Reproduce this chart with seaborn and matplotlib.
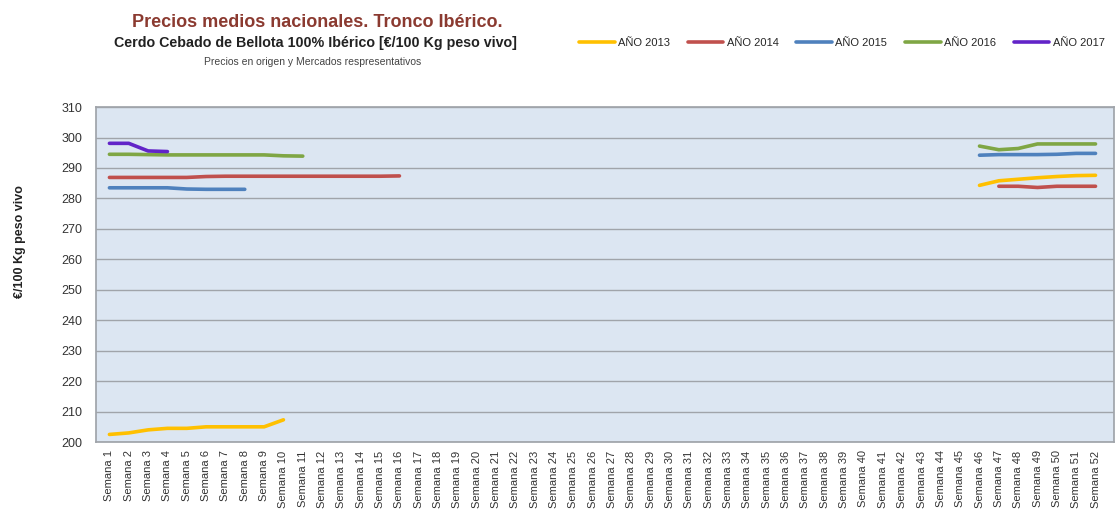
import numpy as np
import pandas as pd
import matplotlib
matplotlib.use("Agg")
import matplotlib.pyplot as plt
import seaborn as sns

sns.set_theme(style="white")
plt.rcParams["font.family"] = ["Liberation Sans", "DejaVu Sans"]

semanas = [f"Semana {i}" for i in range(1, 53)]

# precios por año: (semanas con dato, valores)
sem_2013_a = list(range(1, 11))
val_2013_a = [202.5, 203, 204, 204.5, 204.5, 205, 205, 205, 205, 207.3]
sem_2013_b = list(range(46, 53))
val_2013_b = [284.3, 285.8, 286.3, 286.8, 287.2, 287.5, 287.6]

sem_2014_a = list(range(1, 17))
val_2014_a = [286.9, 286.9, 286.9, 286.9, 286.9, 287.2, 287.3, 287.3,
              287.3, 287.3, 287.3, 287.3, 287.3, 287.3, 287.3, 287.4]
sem_2014_b = list(range(47, 53))
val_2014_b = [284, 284, 283.6, 284, 284, 284]

sem_2015_a = list(range(1, 9))
val_2015_a = [283.5, 283.5, 283.5, 283.5, 283.1, 283.0, 283.0, 283.0]
sem_2015_b = list(range(46, 53))
val_2015_b = [294.2, 294.4, 294.4, 294.4, 294.5, 294.8, 294.8]

sem_2016_a = list(range(1, 12))
val_2016_a = [294.5, 294.5, 294.4, 294.3, 294.3, 294.3, 294.3, 294.3, 294.3, 294.0, 293.9]
sem_2016_b = list(range(46, 53))
val_2016_b = [297.2, 296.0, 296.4, 297.9, 297.9, 297.9, 297.9]

sem_2017 = [1, 2, 3, 4]
val_2017 = [298.1, 298.1, 295.6, 295.4]

anios = ["AÑO 2013", "AÑO 2014", "AÑO 2015", "AÑO 2016", "AÑO 2017"]
colores = ["#FFC000", "#C0504D", "#4F81BD", "#7FA644", "#6224C8"]

tramos = [
    ("AÑO 2013", "a", sem_2013_a, val_2013_a),
    ("AÑO 2013", "b", sem_2013_b, val_2013_b),
    ("AÑO 2014", "a", sem_2014_a, val_2014_a),
    ("AÑO 2014", "b", sem_2014_b, val_2014_b),
    ("AÑO 2015", "a", sem_2015_a, val_2015_a),
    ("AÑO 2015", "b", sem_2015_b, val_2015_b),
    ("AÑO 2016", "a", sem_2016_a, val_2016_a),
    ("AÑO 2016", "b", sem_2016_b, val_2016_b),
    ("AÑO 2017", "a", sem_2017, val_2017),
]
filas = []
for anio, tramo, sem, val in tramos:
    for s, v in zip(sem, val):
        filas.append({"anio": anio, "tramo": tramo, "semana": s - 1, "precio": v})
df = pd.DataFrame(filas)

fig = plt.figure(figsize=(11.15, 5.25), dpi=100)
ax = fig.add_axes([0.086, 0.158, 0.913, 0.638])
ax.set_facecolor("#DCE6F2")

sns.lineplot(data=df, x="semana", y="precio", hue="anio", units="tramo",
             estimator=None, hue_order=anios, palette=colores, linewidth=2.6,
             legend=True, ax=ax)

ax.set_xlim(-0.7, 51.95)
ax.set_ylim(200, 310)
ax.set_yticks(range(200, 311, 10))
ax.yaxis.grid(True, color="#A0A4AA", linewidth=1.0)
ax.xaxis.grid(False)
ax.set_xticks(range(52))
ax.set_xticklabels(semanas, rotation=90, fontsize=8, color="#333333")
ax.tick_params(axis="y", labelsize=9, colors="#333333", length=0, pad=10)
ax.tick_params(axis="x", length=0, pad=6)
for sp in ax.spines.values():
    sp.set_color("#A0A4AA")
ax.set_xlabel("")
ax.set_ylabel("")
fig.text(0.018, 0.54, "€/100 Kg peso vivo", rotation=90, ha="center", va="center",
         fontsize=9, fontweight="bold", color="#222222")

handles, labels = ax.get_legend_handles_labels()
ax.get_legend().remove()
fig.legend(handles, labels, loc="center", bbox_to_anchor=(0.755, 0.918), ncol=5,
           frameon=False, fontsize=8, handlelength=3.2, handletextpad=0.3,
           columnspacing=1.6)

fig.text(0.285, 0.958, "Precios medios nacionales. Tronco Ibérico.", ha="center",
         va="center", fontsize=13, fontweight="bold", color="#8B3A30")
fig.text(0.283, 0.918, "Cerdo Cebado de Bellota 100% Ibérico [€/100 Kg peso vivo]",
         ha="center", va="center", fontsize=10.3, fontweight="bold", color="#222222")
fig.text(0.28, 0.881, "Precios en origen y Mercados respresentativos", ha="center",
         va="center", fontsize=7.5, color="#444444")

plt.savefig("out.png", dpi=100)
